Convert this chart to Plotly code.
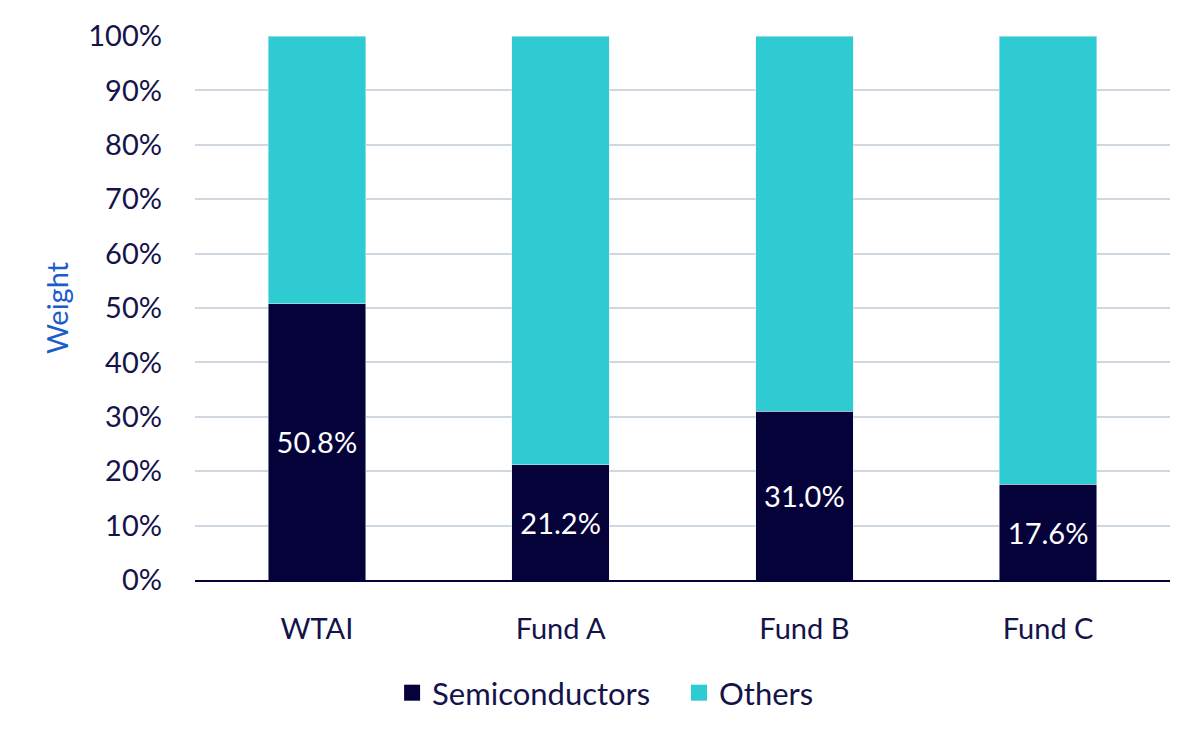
import plotly.graph_objects as go

funds = ["WTAI", "Fund A", "Fund B", "Fund C"]
semis = [50.8, 21.2, 31.0, 17.6]
others = [49.2, 78.8, 69.0, 82.4]
y_ticks = [0, 10, 20, 30, 40, 50, 60, 70, 80, 90, 100]

navy = "#05023a"
teal = "#2ecbd3"
txt = "#14134a"

fig = go.Figure()
fig.add_trace(go.Bar(
    x=funds, y=semis, name="Semiconductors", marker_color=navy,
    text=[f"{v:.1f}%" for v in semis], textposition="inside",
    insidetextanchor="middle", textfont=dict(color="white", size=29),
    showlegend=False,
))
fig.add_trace(go.Bar(x=funds, y=others, name="Others", marker_color=teal, showlegend=False))

# legend entries with bigger square swatches
for name, col in [("Semiconductors   ", navy), ("Others", teal)]:
    fig.add_trace(go.Scatter(x=[None], y=[None], mode="markers", name=name,
                             marker=dict(symbol="square", size=20, color=col)))

# page body adds an 8px offset, so margins are trimmed by 8
fig.update_layout(
    barmode="stack", bargap=0.6,
    width=1200, height=743,
    margin=dict(l=187, r=38, t=28, b=171),
    plot_bgcolor="white", paper_bgcolor="white",
    font=dict(family="Lato", size=29, color=txt),
    legend=dict(orientation="h", xref="container", x=0.498, xanchor="center",
                yref="container", y=0.078, yanchor="middle",
                font=dict(size=31), traceorder="normal", itemsizing="trace"),
    uniformtext=dict(minsize=10, mode="show"),
)
fig.update_yaxes(
    range=[0, 100], tickvals=y_ticks, ticktext=[f"{v}%" for v in y_ticks],
    gridcolor="#cfd8e0", gridwidth=2, zeroline=False, automargin=False,
    title=dict(text="Weight", font=dict(color="#1b5ccc", size=29), standoff=11),
    ticklabelstandoff=32,
)
fig.update_xaxes(showline=True, linecolor=navy, linewidth=2, automargin=False,
                 ticklabelstandoff=22)

fig.write_html("out.html")
